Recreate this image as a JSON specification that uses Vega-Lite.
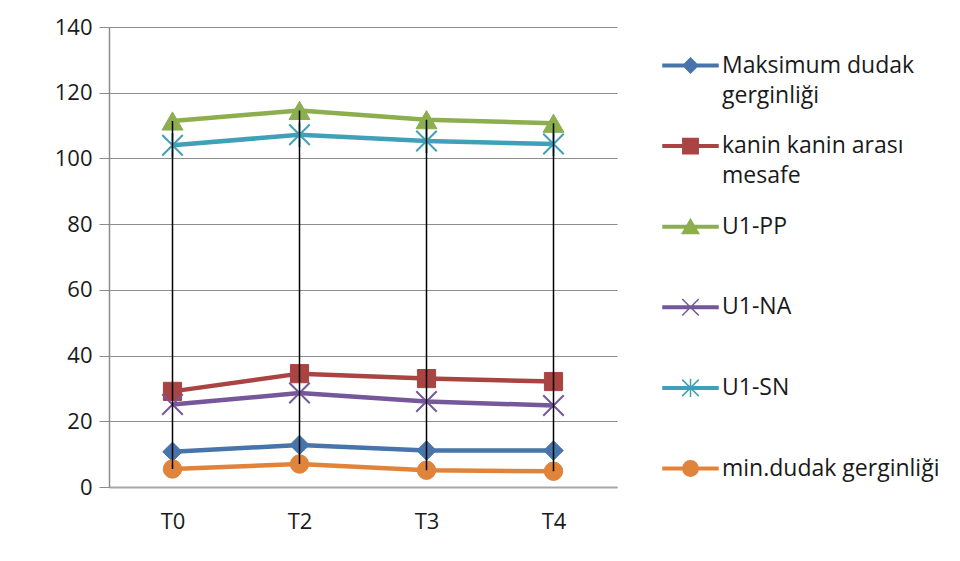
{
  "$schema": "https://vega.github.io/schema/vega-lite/v6.json",
  "width": 508,
  "height": 460,
  "padding": {"left": 54, "top": 16, "right": 5, "bottom": 5},
  "background": "white",
  "config": {
    "view": {"stroke": null},
    "font": "Open Sans",
    "style": {"guide-label": {"lineHeight": 30}}
  },
  "data": {
    "values": [
      {"time": "T0", "series": "Maksimum dudak gerginliği", "value": 10.7},
      {"time": "T2", "series": "Maksimum dudak gerginliği", "value": 12.8},
      {"time": "T3", "series": "Maksimum dudak gerginliği", "value": 11.1},
      {"time": "T4", "series": "Maksimum dudak gerginliği", "value": 11.1},
      {"time": "T0", "series": "kanin kanin arası mesafe", "value": 29.1},
      {"time": "T2", "series": "kanin kanin arası mesafe", "value": 34.5},
      {"time": "T3", "series": "kanin kanin arası mesafe", "value": 33.0},
      {"time": "T4", "series": "kanin kanin arası mesafe", "value": 32.1},
      {"time": "T0", "series": "U1-PP", "value": 111.4},
      {"time": "T2", "series": "U1-PP", "value": 114.6},
      {"time": "T3", "series": "U1-PP", "value": 111.8},
      {"time": "T4", "series": "U1-PP", "value": 110.7},
      {"time": "T0", "series": "U1-NA", "value": 25.1},
      {"time": "T2", "series": "U1-NA", "value": 28.6},
      {"time": "T3", "series": "U1-NA", "value": 26.0},
      {"time": "T4", "series": "U1-NA", "value": 24.8},
      {"time": "T0", "series": "U1-SN", "value": 104.0},
      {"time": "T2", "series": "U1-SN", "value": 107.2},
      {"time": "T3", "series": "U1-SN", "value": 105.3},
      {"time": "T4", "series": "U1-SN", "value": 104.4},
      {"time": "T0", "series": "min.dudak gerginliği", "value": 5.5},
      {"time": "T2", "series": "min.dudak gerginliği", "value": 7.0},
      {"time": "T3", "series": "min.dudak gerginliği", "value": 5.1},
      {"time": "T4", "series": "min.dudak gerginliği", "value": 4.8}
    ]
  },
  "encoding": {
    "x": {
      "field": "time", "type": "nominal",
      "scale": {"type": "point", "padding": 0.5},
      "axis": {
        "title": null, "labelAngle": 0, "ticks": false, "grid": false,
        "domainColor": "#a6a6a6", "domainWidth": 2,
        "labelFont": "Open Sans", "labelFontSize": 22, "labelColor": "#1a1a1a",
        "labelPadding": 24
      }
    },
    "y": {
      "field": "value", "type": "quantitative",
      "scale": {"domain": [0, 140], "nice": false, "zero": true},
      "axis": {
        "title": null, "values": [0, 20, 40, 60, 80, 100, 120, 140],
        "grid": true, "gridColor": "#8c8c8c", "gridWidth": 1,
        "tickSize": 10, "tickColor": "#8c8c8c", "tickWidth": 1,
        "domainColor": "#8c8c8c", "domainWidth": 1.5,
        "labelFont": "Open Sans", "labelFontSize": 22, "labelColor": "#1a1a1a",
        "labelPadding": 7
      }
    }
  },
  "layer": [
    {
      "transform": [{"filter": "datum.series == 'Maksimum dudak gerginliği'"}],
      "layer": [
        {"mark": {"type": "line", "strokeWidth": 4.5, "strokeJoin": "round", "color": "#4674AB"}},
        {"mark": {"type": "point", "shape": "diamond", "size": 380, "fill": "#4674AB", "stroke": "#4674AB", "strokeWidth": 1, "opacity": 1}}
      ]
    },
    {
      "transform": [{"filter": "datum.series == 'kanin kanin arası mesafe'"}],
      "layer": [
        {"mark": {"type": "line", "strokeWidth": 4.5, "strokeJoin": "round", "color": "#A94442"}},
        {"mark": {"type": "point", "shape": "square", "size": 330, "fill": "#A94442", "stroke": "#A94442", "strokeWidth": 1, "opacity": 1}}
      ]
    },
    {
      "transform": [{"filter": "datum.series == 'U1-PP'"}],
      "layer": [
        {"mark": {"type": "line", "strokeWidth": 4.5, "strokeJoin": "round", "color": "#8CAE4F"}},
        {"mark": {"type": "point", "shape": "triangle-up", "size": 440, "fill": "#8CAE4F", "stroke": "#8CAE4F", "strokeWidth": 1, "opacity": 1}}
      ]
    },
    {
      "transform": [{"filter": "datum.series == 'U1-NA'"}],
      "layer": [
        {"mark": {"type": "line", "strokeWidth": 4.5, "strokeJoin": "round", "color": "#75579A"}},
        {"mark": {"type": "point", "shape": "M-1,-1L1,1M1,-1L-1,1", "size": 420, "filled": false, "stroke": "#75579A", "strokeWidth": 2, "opacity": 1}}
      ]
    },
    {
      "transform": [{"filter": "datum.series == 'U1-SN'"}],
      "layer": [
        {"mark": {"type": "line", "strokeWidth": 4.5, "strokeJoin": "round", "color": "#3FA0B8"}},
        {"mark": {"type": "point", "shape": "M-1,-1L1,1M1,-1L-1,1M0,-1.2L0,1.2", "size": 420, "filled": false, "stroke": "#3FA0B8", "strokeWidth": 2, "opacity": 1}}
      ]
    },
    {
      "transform": [{"filter": "datum.series == 'min.dudak gerginliği'"}],
      "layer": [
        {"mark": {"type": "line", "strokeWidth": 4.5, "strokeJoin": "round", "color": "#E0843C"}},
        {"mark": {"type": "point", "shape": "circle", "size": 340, "fill": "#E0843C", "stroke": "#E0843C", "strokeWidth": 1, "opacity": 1}}
      ]
    },
    {
      "mark": {"type": "rule", "color": "black", "strokeWidth": 1.5},
      "encoding": {
        "y": {"aggregate": "min", "field": "value", "type": "quantitative"},
        "y2": {"aggregate": "max", "field": "value"}
      }
    },
    {
      "transform": [{"filter": "false"}],
      "mark": {"type": "point", "size": 3025, "strokeWidth": 1.5, "opacity": 1, "filled": true},
      "encoding": {
        "shape": {
          "field": "series", "type": "nominal",
          "scale": {
            "domain": ["Maksimum dudak gerginliği", "kanin kanin arası mesafe", "U1-PP", "U1-NA", "U1-SN", "min.dudak gerginliği"],
            "range": [
              "M-1,-0.045H1V0.045H-1ZM-0.27,0L0,-0.27L0.27,0L0,0.27Z",
              "M-1,-0.045H1V0.045H-1ZM-0.28,-0.28H0.28V0.28H-0.28Z",
              "M-1,-0.045H1V0.045H-1ZM0,-0.27L0.3,0.25L-0.3,0.25Z",
              "M-1,-0.045H1V0.045H-1ZM-0.3,-0.3L0.3,0.3M0.3,-0.3L-0.3,0.3",
              "M-1,-0.045H1V0.045H-1ZM-0.3,-0.3L0.3,0.3M0.3,-0.3L-0.3,0.3M0,-0.33L0,0.33",
              "M-1,-0.045H1V0.045H-1ZM-0.28,0A0.28,0.28 0 1,1 0.28,0A0.28,0.28 0 1,1 -0.28,0Z"
            ]
          },
          "legend": {
            "title": null, "orient": "right", "offset": 35, "padding": 10,
            "symbolSize": 3025, "symbolStrokeWidth": 1.5, "symbolOpacity": 1,
            "labelFont": "Open Sans", "labelFontSize": 23, "labelColor": "#1a1a1a",
            "labelLimit": 400, "labelOffset": 3, "rowPadding": 9.6,
            "labelExpr": "datum.label == 'Maksimum dudak gerginliği' ? ['Maksimum dudak', 'gerginliği'] : datum.label == 'kanin kanin arası mesafe' ? ['kanin kanin arası', 'mesafe'] : [datum.label, '']"
          }
        },
        "fill": {
          "field": "series", "type": "nominal",
          "scale": {
            "domain": ["Maksimum dudak gerginliği", "kanin kanin arası mesafe", "U1-PP", "U1-NA", "U1-SN", "min.dudak gerginliği"],
            "range": ["#4674AB", "#A94442", "#8CAE4F", "#75579A", "#3FA0B8", "#E0843C"]
          },
          "legend": {
            "title": null, "orient": "right", "offset": 35, "padding": 10,
            "symbolSize": 3025, "symbolStrokeWidth": 1.5, "symbolOpacity": 1,
            "labelFont": "Open Sans", "labelFontSize": 23, "labelColor": "#1a1a1a",
            "labelLimit": 400, "labelOffset": 3, "rowPadding": 9.6,
            "labelExpr": "datum.label == 'Maksimum dudak gerginliği' ? ['Maksimum dudak', 'gerginliği'] : datum.label == 'kanin kanin arası mesafe' ? ['kanin kanin arası', 'mesafe'] : [datum.label, '']"
          }
        },
        "stroke": {
          "field": "series", "type": "nominal",
          "scale": {
            "domain": ["Maksimum dudak gerginliği", "kanin kanin arası mesafe", "U1-PP", "U1-NA", "U1-SN", "min.dudak gerginliği"],
            "range": ["#4674AB", "#A94442", "#8CAE4F", "#75579A", "#3FA0B8", "#E0843C"]
          },
          "legend": {
            "title": null, "orient": "right", "offset": 35, "padding": 10,
            "symbolSize": 3025, "symbolStrokeWidth": 1.5, "symbolOpacity": 1,
            "labelFont": "Open Sans", "labelFontSize": 23, "labelColor": "#1a1a1a",
            "labelLimit": 400, "labelOffset": 3, "rowPadding": 9.6,
            "labelExpr": "datum.label == 'Maksimum dudak gerginliği' ? ['Maksimum dudak', 'gerginliği'] : datum.label == 'kanin kanin arası mesafe' ? ['kanin kanin arası', 'mesafe'] : [datum.label, '']"
          }
        }
      }
    }
  ]
}
